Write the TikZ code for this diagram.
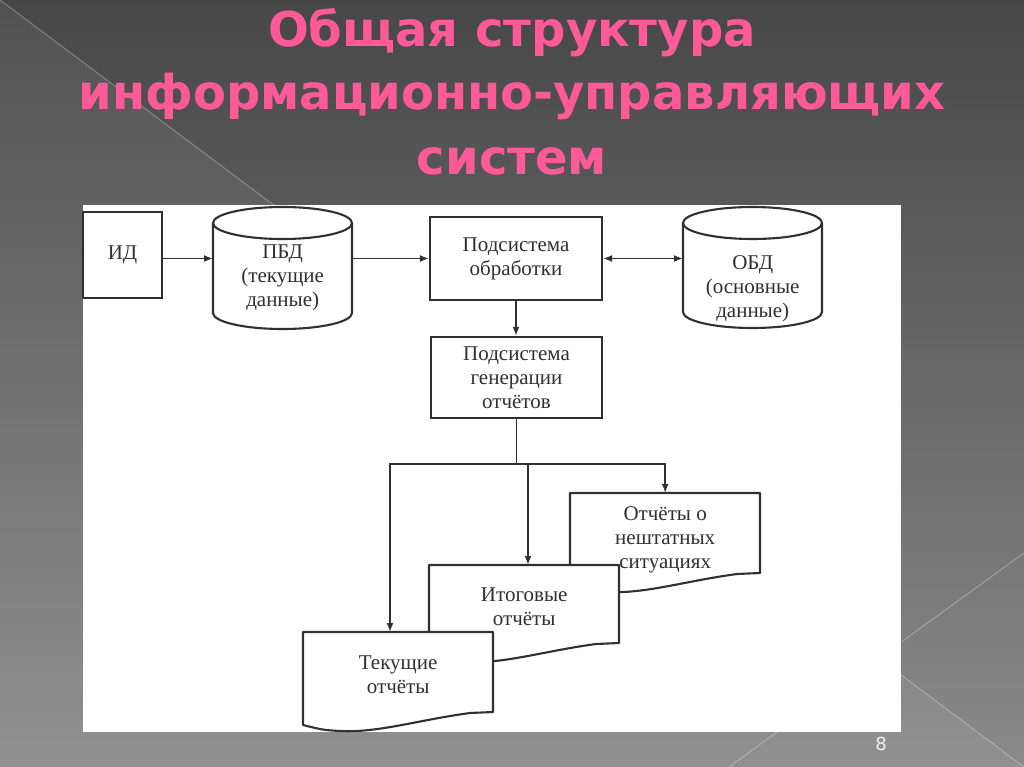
\documentclass[tikz,border=0pt]{standalone}
\usepackage{fontspec}
\setmainfont{Liberation Serif}
\newfontfamily\titlefont{DejaVu Sans}
\usetikzlibrary{arrows.meta,calc}
\definecolor{titlepink}{HTML}{FF5A98}
\definecolor{ink}{HTML}{303030}
\definecolor{bgtop}{HTML}{474747}
\definecolor{bgbot}{HTML}{8A8A8A}
\newcommand\cylpath[5]{%
  \pgfmathsetmacro\cxa{#1+#3/2}\pgfmathsetmacro\rxa{#3/2}%
  \pgfmathsetmacro\cba{#2+#4-#5}\pgfmathsetmacro\cta{#2+#5}%
  \draw[shp] (#1,\cta) -- (#1,\cba) .. controls (#1,\cba+0.552*#5) and (\cxa-0.552*\rxa,\cba+#5) .. (\cxa,\cba+#5)
     .. controls (\cxa+0.552*\rxa,\cba+#5) and (#1+#3,\cba+0.552*#5) .. (#1+#3,\cba) -- (#1+#3,\cta);
  \draw[shp] (\cxa,\cta) ellipse [x radius=\rxa, y radius=#5];
}
\newcommand\docpath[4]{%
  \draw[shp, fill=white] (#1,#2) -- (#1+#3,#2) -- (#1+#3,#2+#4) -- (#1+#3-23,#2+#4+1)
     .. controls (#1+#3-75,#2+#4+8) and (#1+#3-115,#2+#4+21) .. (#1+37,#2+#4+19)
     .. controls (#1+20,#2+#4+18) .. (#1,#2+#4+13) -- cycle;
}
\begin{document}
\begin{tikzpicture}[x=1pt,y=-1pt,
  shp/.style={draw=ink, line width=2.1pt, line join=round},
  box/.style={draw=ink, line width=2.1pt, fill=white, inner sep=0pt, align=center,
              font=\fontsize{21}{24}\selectfont, text=ink},
  ghost/.style={draw=none, inner sep=0pt, align=center, font=\fontsize{21}{24}\selectfont, text=ink},
  txt/.style={align=center, font=\fontsize{21}{24}\selectfont, text=ink, inner sep=0pt},
  arr/.style={draw=ink, line width=1.8pt, -{Latex[length=9pt,width=7pt]}},
  darr/.style={draw=ink, line width=1.8pt, {Latex[length=9pt,width=7pt]}-{Latex[length=9pt,width=7pt]}},
  ttl/.style={font=\titlefont\bfseries\fontsize{48}{48}\selectfont, text=titlepink, anchor=base, inner sep=0pt},
  bgline/.style={draw=white, draw opacity=0.3, line width=0.9pt}
]
\useasboundingbox (0,0) rectangle (1024,767);
% background
\shade[top color=bgtop, bottom color=bgbot] (0,0) rectangle (1024,767);
\fill[white, opacity=0.06] (0,0) -- (1024,767) -- (0,767) -- cycle;
\path[bgline] (0,0) -- (1024,767);
\path[bgline] (729,767) -- (1024,553);
% title
\node[ttl] (t1) at (512,47) {Общая структура};
\node[ttl] (t2) at (512,110) {информационно-управляющих};
\node[ttl] (t3) at (512,175) {систем};
% panel
\fill[white] (83,205) rectangle (901,732);
% top row
\node[box, minimum width=79, minimum height=86] (id) at (122.5,255) {ИД};
\cylpath{213}{207}{139}{122}{16}
\node[ghost, minimum width=139, minimum height=122, anchor=north west] (pbd) at (213,207) {};
\node[txt] (pbdt) at ($(pbd.center)+(0,10)$) {ПБД\\(текущие\\данные)};
\node[box, minimum width=172, minimum height=83] (obr) at (516,258.5) {Подсистема\\обработки};
\cylpath{683}{207}{139}{121}{16}
\node[ghost, minimum width=139, minimum height=121, anchor=north west] (obd) at (683,207) {};
\node[txt] (obdt) at ($(obd.center)+(0,21)$) {ОБД\\(основные\\данные)};
\node[box, minimum width=171, minimum height=81] (gen) at (516.5,377.5) {Подсистема\\генерации\\отчётов};
% documents
\docpath{570}{493}{190}{80}
\node[ghost, minimum width=190, minimum height=94, anchor=north west] (nesh) at (570,493) {Отчёты о\\нештатных\\ситуациях};
\docpath{429}{565}{190}{78}
\node[ghost, minimum width=190, minimum height=83, anchor=north west] (ito) at (429,565) {Итоговые\\отчёты};
\docpath{303}{632}{190}{80}
\node[ghost, minimum width=190, minimum height=86, anchor=north west] (tek) at (303,632) {Текущие\\отчёты};
% connectors
\draw[arr] (id.east |- obr.west) -- (pbd.west |- obr.west);
\draw[arr] (pbd.east |- obr.west) -- (obr.west);
\draw[darr] (obr.east) -- (obr.east -| obd.west);
\draw[arr] (obr.south) -- (obr.south |- gen.north);
\coordinate (sL) at (390,464);
\coordinate (sM) at (528,464);
\draw[arr] (gen.south) |- (sL) -- (sL |- tek.north);
\draw[arr] (gen.south |- sL) -| (nesh.north);
\draw[arr] (sM) -- (sM |- ito.north);
% page number
\node[font=\titlefont\fontsize{18}{18}\selectfont, text=white!88!gray, anchor=base, inner sep=0pt] (pg) at (881,750) {8};
\end{tikzpicture}
\end{document}
